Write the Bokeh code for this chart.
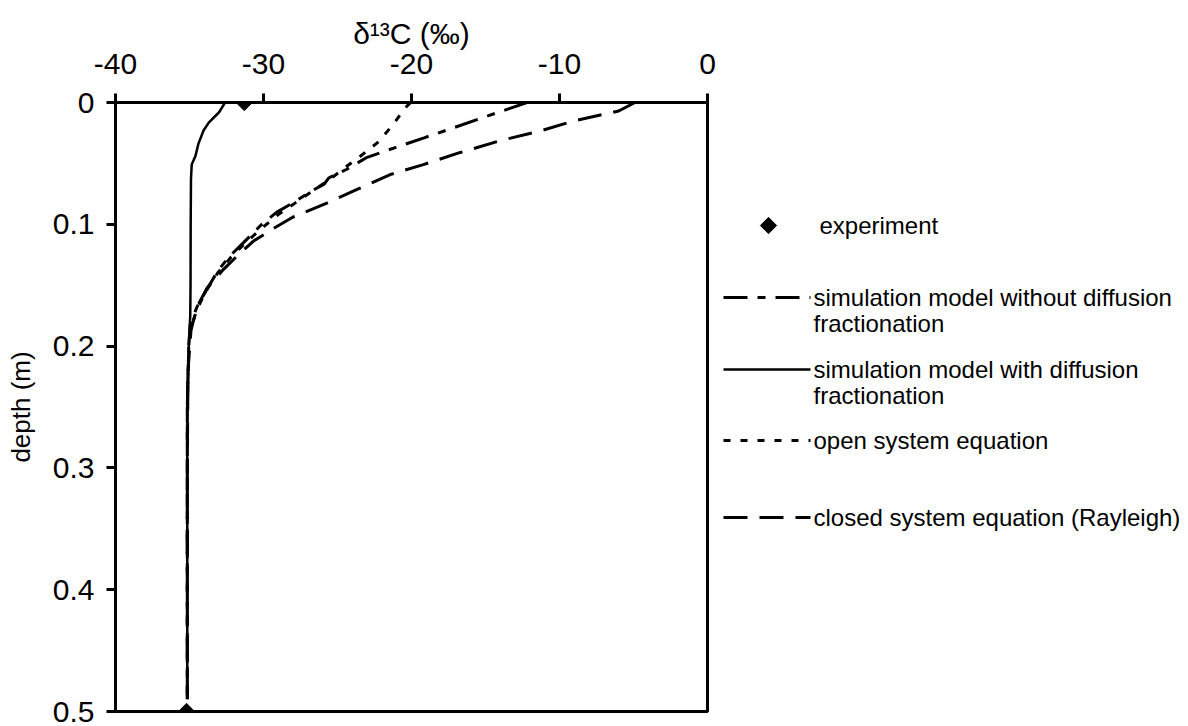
from bokeh.plotting import figure
from bokeh.models import Range1d, FixedTicker
from bokeh.layouts import row
from bokeh.embed import file_html
from bokeh.resources import INLINE
from bokeh.core.properties import value

FONT = "Liberation Sans"

# ---- data (depth in m, delta13C in permil) ----
exp_depth = [0.0, 0.5]
exp_d13c = [-31.3, -35.2]

nodiff_depth = [0.0, 0.0055, 0.012, 0.0205, 0.029, 0.037, 0.045, 0.055, 0.062, 0.067, 0.073,
                0.082, 0.090, 0.101, 0.115, 0.127, 0.1385, 0.155, 0.168, 0.182, 0.2, 0.25,
                0.3, 0.4, 0.49]
nodiff_d13c = [-12.2, -13.5, -15.1, -17.1, -19.15, -21.1, -23.0, -24.4, -25.6, -25.9, -26.8,
               -27.95, -29.1, -30.2, -31.35, -32.35, -33.1, -33.9, -34.5, -34.95, -35.05, -35.15,
               -35.15, -35.15, -35.15]

diff_depth = [0.0, 0.008, 0.0165, 0.023, 0.034, 0.044, 0.051, 0.063, 0.10, 0.15, 0.175,
              0.2, 0.25, 0.3, 0.4, 0.49]
diff_d13c = [-32.6, -33.0, -33.7, -34.05, -34.4, -34.6, -34.85, -34.9, -34.92, -34.93, -34.95,
             -35.05, -35.15, -35.15, -35.15, -35.15]

open_depth = [0.0, 0.004, 0.019, 0.033, 0.045, 0.053, 0.062, 0.072, 0.082, 0.092, 0.103,
              0.115, 0.127, 0.14, 0.155, 0.17, 0.185, 0.2, 0.25, 0.3, 0.4, 0.49]
open_d13c = [-20.05, -20.4, -21.3, -22.3, -23.55, -24.45, -25.4, -26.6, -27.8, -29.0, -30.1,
             -31.2, -32.2, -33.1, -33.9, -34.5, -34.9, -35.05, -35.15, -35.15, -35.15, -35.15]

closed_depth = [0.0, 0.007, 0.015, 0.023, 0.031, 0.041, 0.051, 0.059, 0.071, 0.083, 0.094,
                0.104, 0.114, 0.125, 0.137, 0.152, 0.168, 0.187, 0.22, 0.3, 0.4, 0.49]
closed_d13c = [-4.9, -6.0, -9.0, -11.2, -13.9, -16.7, -19.2, -21.4, -23.6, -25.8, -28.0,
               -29.4, -30.7, -31.7, -32.7, -33.8, -34.5, -34.9, -35.1, -35.15, -35.15, -35.15]

x_ticks = [-40, -30, -20, -10, 0]
x_tick_labels = ["-40", "-30", "-20", "-10", "0"]
y_ticks = [0, 0.1, 0.2, 0.3, 0.4, 0.5]
y_tick_labels = ["0", "0.1", "0.2", "0.3", "0.4", "0.5"]

legend_labels = [
    ["experiment"],
    ["simulation model without diffusion", "fractionation"],
    ["simulation model with diffusion", "fractionation"],
    ["open system equation"],
    ["closed system equation (Rayleigh)"],
]

DASH_NODIFF = "24 10 8 10"
DASH_OPEN = "7 10"
DASH_CLOSED = "24 12"
LW = 3
LW_SOLID = 2.5

FRAME_TOP, FRAME_BOTTOM_BORDER = 102, 15
H = 726

# ---- main plot ----
p = figure(width=720, height=H, x_range=Range1d(-40, 0), y_range=Range1d(0.5, 0),
           x_axis_location="above", output_backend="svg", toolbar_location=None,
           min_border_left=115, min_border_top=FRAME_TOP, min_border_right=13,
           min_border_bottom=FRAME_BOTTOM_BORDER)
p.background_fill_color = "white"
p.border_fill_color = "white"
p.grid.visible = False
p.outline_line_color = "black"
p.outline_line_width = 3

p.xaxis.ticker = FixedTicker(ticks=x_ticks)
p.xaxis.major_label_overrides = {t: l for t, l in zip(x_ticks, x_tick_labels)}
p.yaxis.ticker = FixedTicker(ticks=y_ticks)
p.yaxis.major_label_overrides = {t: l for t, l in zip(y_ticks, y_tick_labels)}

for ax in (p.xaxis, p.yaxis):
    ax.axis_line_width = 3
    ax.axis_line_color = "black"
    ax.major_tick_line_width = 3
    ax.major_tick_line_color = "black"
    ax.major_tick_out = 9
    ax.major_tick_in = 0
    ax.minor_tick_line_color = None
    ax.major_label_text_font = FONT
    ax.major_label_text_font_size = "30px"
    ax.major_label_text_color = "black"
    ax.axis_label_text_font = FONT
    ax.axis_label_text_font_style = "normal"
    ax.axis_label_text_color = "black"

p.xaxis.axis_label = "δ¹³C (‰)"
p.xaxis.axis_label_text_font_size = "30px"
p.xaxis.major_label_standoff = 20
p.xaxis.axis_label_standoff = 1
p.yaxis.axis_label = "depth (m)"
p.yaxis.axis_label_text_font_size = "26px"
p.yaxis.major_label_standoff = 12
p.yaxis.axis_label_standoff = 14

p.line(nodiff_d13c, nodiff_depth, line_color="black", line_width=LW, line_dash=DASH_NODIFF)
p.line(open_d13c, open_depth, line_color="black", line_width=LW, line_dash=DASH_OPEN)
p.line(closed_d13c, closed_depth, line_color="black", line_width=LW, line_dash=DASH_CLOSED)
p.line(diff_d13c, diff_depth, line_color="black", line_width=LW_SOLID)
p.scatter(exp_d13c, exp_depth, marker="square", angle=0.785398, size=11.5,
          fill_color="black", line_color="black")

# ---- legend panel (screen-pixel coordinates: its frame is aligned with the main frame) ----
lg = figure(width=468, height=H, x_range=Range1d(0, 468),
            y_range=Range1d(H - FRAME_BOTTOM_BORDER, FRAME_TOP),
            x_axis_type=None, y_axis_type=None, output_backend="svg", toolbar_location=None,
            min_border_left=0, min_border_right=0, min_border_top=FRAME_TOP,
            min_border_bottom=FRAME_BOTTOM_BORDER)
lg.grid.visible = False
lg.outline_line_color = None
lg.background_fill_color = "white"
lg.border_fill_color = "white"

item_y = [225, 297, 369, 440, 517]
line_x0, line_x1, text_x = 3, 90, 93
line_h = 26

lg.scatter([48], [item_y[0]], marker="square", angle=0.785398, size=11.5,
           fill_color="black", line_color="black")
lg.line([line_x0, line_x1], [item_y[1]] * 2, line_color="black", line_width=LW, line_dash=DASH_NODIFF)
lg.line([line_x0, line_x1], [item_y[2]] * 2, line_color="black", line_width=LW_SOLID)
lg.line([line_x0, line_x1], [item_y[3]] * 2, line_color="black", line_width=LW, line_dash=DASH_OPEN)
lg.line([line_x0, line_x1], [item_y[4]] * 2, line_color="black", line_width=LW, line_dash=DASH_CLOSED)

tx, ty, tt = [], [], []
for i, (yy, labs) in enumerate(zip(item_y, legend_labels)):
    for j, s in enumerate(labs):
        tx.append(99 if i == 0 else text_x)
        ty.append(yy + j * line_h)
        tt.append(s)
lg.text(tx, ty, text=tt, text_font=value(FONT), text_font_size="24px",
        text_baseline="middle", text_align="left", text_color="black")

layout = row(p, lg)
open("out.html", "w").write(file_html(layout, INLINE))
